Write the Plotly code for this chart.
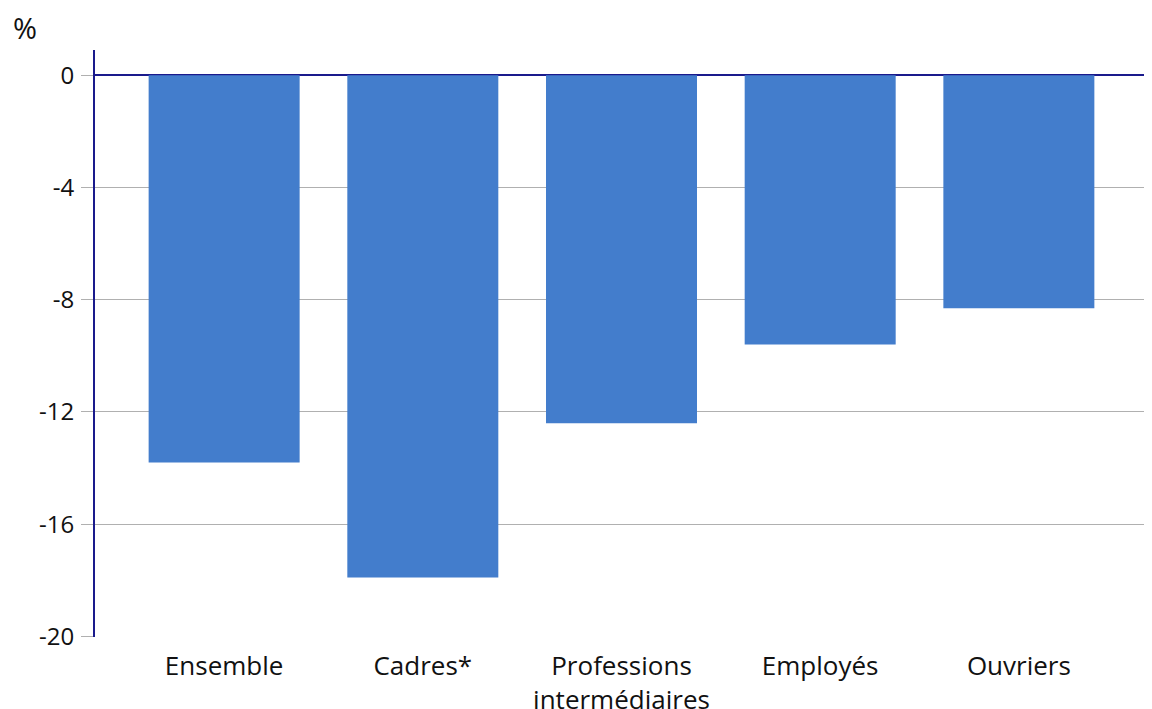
import plotly.graph_objects as go

categories = ["Ensemble", "Cadres*", "Professions<br>intermédiaires", "Employés", "Ouvriers"]
values = [-13.8, -17.9, -12.4, -9.6, -8.3]
y_ticks = [0, -4, -8, -12, -16, -20]

fig = go.Figure(go.Bar(
    x=categories, y=values,
    marker=dict(color="#437DCC", line=dict(width=0)),
))

# page body has an 8px margin, so the figure is sized/offset to compensate
fig.update_layout(
    width=1144, height=701,
    margin=dict(l=87, r=4, t=42, b=72, autoexpand=False),
    plot_bgcolor="white", paper_bgcolor="white",
    font=dict(family="Open Sans", size=24, color="#111111"),
    bargap=0.24,
    showlegend=False,
    annotations=[dict(text="%", x=-0.08, y=1.075, xref="paper", yref="paper",
                      showarrow=False, xanchor="left", yanchor="top",
                      font=dict(size=29, color="#111111"))],
)
fig.update_xaxes(range=[-0.65, 4.65], showline=False, showgrid=False,
                 ticks="", tickfont=dict(size=26), automargin=False,
                 ticklabelstandoff=11)
fig.update_yaxes(range=[-20.02, 0.9], tickvals=y_ticks,
                 ticktext=[str(v) for v in y_ticks],
                 showgrid=True, gridcolor="#b0b0b0", gridwidth=1,
                 ticks="outside", ticklen=12, tickcolor="#b0b0b0",
                 showline=True, linecolor="#1a1a8c", linewidth=2,
                 zeroline=True, zerolinecolor="#1a1a8c", zerolinewidth=2,
                 tickfont=dict(size=24), automargin=False,
                 ticklabelstandoff=2)

fig.write_html("out.html")
